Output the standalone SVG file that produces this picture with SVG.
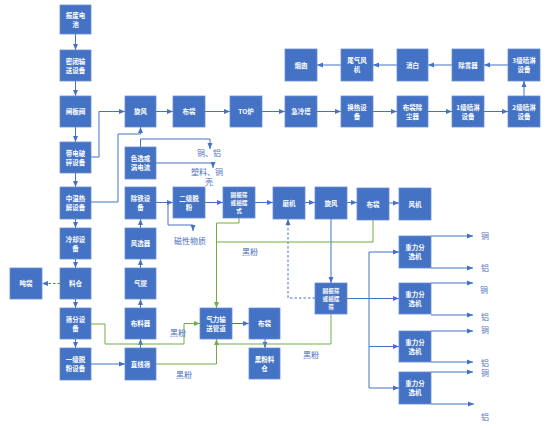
<svg xmlns="http://www.w3.org/2000/svg" width="553" height="428" viewBox="0 0 553 428">
<defs>
<style>
.n rect{fill:#4472C4;stroke:#6d90d2;stroke-width:0.8}
.n text{fill:#fff;font-family:"Noto Sans CJK SC","Noto Sans",sans-serif;font-size:6.5px;font-weight:bold;text-anchor:middle}
.n text.s{font-size:5.6px}
.c path{fill:none;stroke:#4472C4;stroke-width:1}
.c path.b{marker-end:url(#ab)}
.c path.d{stroke-dasharray:2.5,2}
.c path.g{stroke:#70AD47}
.c path.ga{stroke:#70AD47;marker-end:url(#ag)}
.l{fill:#4a6fc0;font-family:"Noto Sans CJK SC","Noto Sans",sans-serif;font-size:8px;text-anchor:middle}
</style>
<marker id="ab" markerUnits="userSpaceOnUse" markerWidth="6" markerHeight="6" viewBox="0 0 6 6" refX="6" refY="3" orient="auto"><path d="M0,0.5 L6,3 L0,5.5 Z" fill="#4472C4"/></marker>
<marker id="ag" markerUnits="userSpaceOnUse" markerWidth="6" markerHeight="6" viewBox="0 0 6 6" refX="6" refY="3" orient="auto"><path d="M0,0.5 L6,3 L0,5.5 Z" fill="#70AD47"/></marker>
</defs>
<rect width="553" height="428" fill="#fff"/>

<g class="c" id="connectors">
<path class="b" d="M75.5,34 V50"/>
<path class="b" d="M75.5,81 V96"/>
<path class="b" d="M75.5,127 V142"/>
<path class="b" d="M75.5,173 V187"/>
<path class="b" d="M75.5,219 V228"/>
<path class="b" d="M75.5,259 V268"/>
<path class="b" d="M75.5,299 V308"/>
<path class="b" d="M75.5,339 V348"/>
<path class="b d" d="M60,283.5 H42"/>
<path class="b" d="M91,157 H99 V111.5 H125"/>
<path class="b" d="M156,111.5 H173"/>
<path class="b" d="M205,111.5 H230"/>
<path class="b" d="M262,111.5 H285"/>
<path class="b" d="M317,111.5 H341"/>
<path class="b" d="M373,111.5 H397"/>
<path class="b" d="M428,111.5 H452"/>
<path class="b" d="M484,111.5 H508"/>
<path class="b" d="M524,96 V81"/>
<path class="b" d="M508,65 H484"/>
<path class="b" d="M452,65 H428"/>
<path class="b" d="M397,65 H373"/>
<path class="b" d="M341,65 H317"/>
<path class="b" d="M91,202 H118 V134 H140.5 V127"/>
<path class="b" d="M140.5,147 V139 H210 V149"/>
<path class="b" d="M156,163 H213 V168"/>
<path class="b" d="M156,202.5 H173"/>
<path class="b" d="M168,202.5 V225 H193 V231"/>
<path class="b" d="M205,202.5 H223"/>
<path class="b" d="M255,202.5 H273"/>
<path class="b" d="M305,202.5 H315"/>
<path class="b" d="M347,202.5 H357"/>
<path class="b" d="M389,203 H399"/>
<path class="b" d="M140.5,348 V339"/>
<path class="b" d="M140.5,308 V299"/>
<path class="b" d="M140.5,268 V259"/>
<path class="b" d="M140.5,228 V219"/>
<path class="b" d="M91,364 H125"/>
<path class="b" d="M331,219 V283"/>
<path class="b d" d="M315,298 H288 V219"/>
<path class="b" d="M347,298.5 H399"/>
<path d="M369,252 V388"/>
<path class="b" d="M369,252 H399"/>
<path class="b" d="M369,346.5 H399"/>
<path class="b" d="M369,388 H399"/>
<path class="b" d="M431,236 H473"/>
<path class="b" d="M431,268 H473"/>
<path class="b" d="M431,283 H473"/>
<path class="b" d="M431,315 H473"/>
<path class="b" d="M431,331 H473"/>
<path class="b" d="M431,362 H473"/>
<path class="b" d="M431,372 H473"/>
<path class="b" d="M431,404 H474"/>
<path class="b" d="M232,323.5 H249"/>
<path class="b" d="M265,339 V348"/>
<path class="ga" d="M239,218 V223 H216.5 V308"/>
<path class="g" d="M373,220 V242 H216.5"/>
<path class="ga" d="M91,324 H105 V344 H184 V323.5 H200"/>
<path class="ga" d="M156,364 H216.5 V339"/>
<path class="g" d="M331,314 V344 H216.5"/>
</g>

<g class="n" id="n1"><rect x="60" y="5" width="31" height="29"/><text x="75.5" y="17.8">报废电</text><text x="75.5" y="26.8">池</text></g>
<g class="n" id="n2"><rect x="60" y="50" width="31" height="31"/><text x="75.5" y="63.8">密闭输</text><text x="75.5" y="72.8">送设备</text></g>
<g class="n" id="n3"><rect x="60" y="96" width="31" height="31"/><text x="75.5" y="114">闸板阀</text></g>
<g class="n" id="n4"><rect x="60" y="142" width="31" height="31"/><text x="75.5" y="155.8">带电破</text><text x="75.5" y="164.8">碎设备</text></g>
<g class="n" id="n5"><rect x="60" y="187" width="31" height="32"/><text x="75.5" y="201.3">中温热</text><text x="75.5" y="210.3">解设备</text></g>
<g class="n" id="n6"><rect x="60" y="228" width="31" height="31"/><text x="75.5" y="241.8">冷却设</text><text x="75.5" y="250.8">备</text></g>
<g class="n" id="n7"><rect x="60" y="268" width="31" height="31"/><text x="75.5" y="286">料仓</text></g>
<g class="n" id="n8"><rect x="60" y="308" width="31" height="31"/><text x="75.5" y="321.8">筛分设</text><text x="75.5" y="330.8">备</text></g>
<g class="n" id="n9"><rect x="60" y="348" width="31" height="32"/><text x="75.5" y="362.3">一级脱</text><text x="75.5" y="371.3">粉设备</text></g>
<g class="n" id="n10"><rect x="10" y="268" width="32" height="31"/><text x="26" y="286">吨袋</text></g>

<g class="n" id="n11"><rect x="125" y="96" width="31" height="31"/><text x="140.5" y="114">旋风</text></g>
<g class="n" id="n12"><rect x="125" y="147" width="31" height="32"/><text x="140.5" y="161.3">色选或</text><text x="140.5" y="170.3">涡电流</text></g>
<g class="n" id="n13"><rect x="125" y="187" width="31" height="32"/><text x="140.5" y="201.3">除铁设</text><text x="140.5" y="210.3">备</text></g>
<g class="n" id="n14"><rect x="125" y="228" width="31" height="31"/><text x="140.5" y="246">风选器</text></g>
<g class="n" id="n15"><rect x="125" y="268" width="31" height="31"/><text x="140.5" y="286">气提</text></g>
<g class="n" id="n16"><rect x="125" y="308" width="31" height="31"/><text x="140.5" y="326">布料器</text></g>
<g class="n" id="n17"><rect x="125" y="348" width="31" height="32"/><text x="140.5" y="366.5">直线筛</text></g>

<g class="n" id="n18"><rect x="173" y="96" width="32" height="31"/><text x="189" y="114">布袋</text></g>
<g class="n" id="n19"><rect x="230" y="96" width="32" height="31"/><text x="246" y="114">TO炉</text></g>
<g class="n" id="n20"><rect x="285" y="96" width="32" height="31"/><text x="301" y="114">急冷塔</text></g>
<g class="n" id="n21"><rect x="341" y="96" width="32" height="31"/><text x="357" y="109.8">换热设</text><text x="357" y="118.8">备</text></g>
<g class="n" id="n22"><rect x="397" y="96" width="31" height="31"/><text x="412.5" y="109.8">布袋除</text><text x="412.5" y="118.8">尘器</text></g>
<g class="n" id="n23"><rect x="452" y="96" width="32" height="31"/><text x="468" y="109.8">1级喷淋</text><text x="468" y="118.8">设备</text></g>
<g class="n" id="n24"><rect x="508" y="96" width="32" height="31"/><text x="524" y="109.8">2级喷淋</text><text x="524" y="118.8">设备</text></g>
<g class="n" id="n25"><rect x="508" y="49" width="32" height="32"/><text x="524" y="63.3">3级喷淋</text><text x="524" y="72.3">设备</text></g>
<g class="n" id="n26"><rect x="452" y="49" width="32" height="32"/><text x="468" y="67.5">除雾器</text></g>
<g class="n" id="n27"><rect x="397" y="49" width="31" height="32"/><text x="412.5" y="67.5">消白</text></g>
<g class="n" id="n28"><rect x="341" y="49" width="32" height="32"/><text x="357" y="63.3">尾气风</text><text x="357" y="72.3">机</text></g>
<g class="n" id="n29"><rect x="285" y="49" width="32" height="32"/><text x="301" y="67.5">烟囱</text></g>

<g class="n" id="n30"><rect x="173" y="187" width="32" height="31"/><text x="189" y="200.8">二级脱</text><text x="189" y="209.8">粉</text></g>
<g class="n" id="n31"><rect x="223" y="187" width="32" height="31"/><text class="s" x="239" y="196.5">圆振筛</text><text class="s" x="239" y="204.5">或摇摆</text><text class="s" x="239" y="212.5">式</text></g>
<g class="n" id="n32"><rect x="273" y="187" width="32" height="32"/><text x="289" y="205.5">磨机</text></g>
<g class="n" id="n33"><rect x="315" y="187" width="32" height="32"/><text x="331" y="205.5">旋风</text></g>
<g class="n" id="n34"><rect x="357" y="188" width="32" height="32"/><text x="373" y="206.5">布袋</text></g>
<g class="n" id="n35"><rect x="399" y="188" width="32" height="32"/><text x="415" y="206.5">风机</text></g>
<g class="n" id="n36"><rect x="315" y="283" width="32" height="31"/><text class="s" x="331" y="292.5">圆振筛</text><text class="s" x="331" y="300.5">或摇摆</text><text class="s" x="331" y="308.5">筛</text></g>

<g class="n" id="n37"><rect x="200" y="308" width="32" height="31"/><text x="216" y="321.8">气力输</text><text x="216" y="330.8">送管道</text></g>
<g class="n" id="n38"><rect x="249" y="308" width="31" height="31"/><text x="264.5" y="326">布袋</text></g>
<g class="n" id="n39"><rect x="249" y="348" width="31" height="31"/><text x="264.5" y="361.8">黑粉料</text><text x="264.5" y="370.8">仓</text></g>

<g class="n" id="n40"><rect x="399" y="236" width="32" height="32"/><text x="415" y="250.3">重力分</text><text x="415" y="259.3">选机</text></g>
<g class="n" id="n41"><rect x="399" y="283" width="32" height="31"/><text x="415" y="296.8">重力分</text><text x="415" y="305.8">选机</text></g>
<g class="n" id="n42"><rect x="399" y="331" width="32" height="31"/><text x="415" y="344.8">重力分</text><text x="415" y="353.8">选机</text></g>
<g class="n" id="n43"><rect x="399" y="372" width="32" height="32"/><text x="415" y="386.3">重力分</text><text x="415" y="395.3">选机</text></g>

<g id="labels">
<text class="l" x="209" y="156">铜、铝</text>
<text class="l" x="207" y="175">塑料、铜</text>
<text class="l" x="209" y="185">壳</text>
<text class="l" x="190" y="244">磁性物质</text>
<text class="l" x="250" y="255">黑粉</text>
<text class="l" x="178" y="336">黑粉</text>
<text class="l" x="184" y="378">黑粉</text>
<text class="l" x="311" y="358">黑粉</text>
<text class="l" x="485" y="239">铜</text>
<text class="l" x="485" y="271">铝</text>
<text class="l" x="484" y="293">铜</text>
<text class="l" x="485" y="320">铝</text>
<text class="l" x="485" y="333">铜</text>
<text class="l" x="485" y="366">铝</text>
<text class="l" x="485" y="376">铜</text>
<text class="l" x="485" y="420">铝</text>
</g>
</svg>
